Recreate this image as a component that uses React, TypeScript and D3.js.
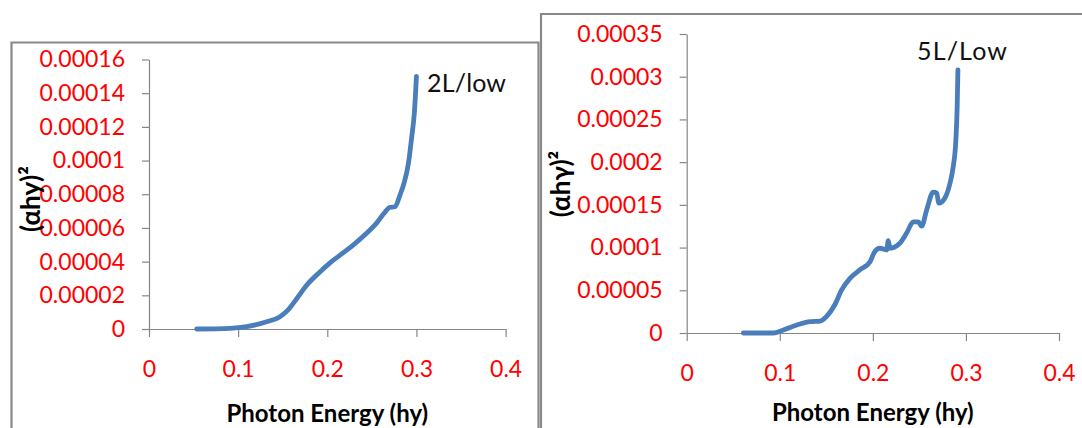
import React, { useEffect, useRef } from "react";
import * as d3 from "d3";

// photon energy ticks, shared by both panels
const xTicks = [0, 0.1, 0.2, 0.3, 0.4];
const yTicks2L = [0, 0.00002, 0.00004, 0.00006, 0.00008, 0.0001, 0.00012, 0.00014, 0.00016];
const yTicks5L = [0, 0.00005, 0.0001, 0.00015, 0.0002, 0.00025, 0.0003, 0.00035];

// 2L/low curve
const energy2L = [0.0535, 0.0909, 0.1096, 0.132, 0.147, 0.156, 0.166, 0.177, 0.192, 0.203, 0.218, 0.229, 0.244, 0.255, 0.265, 0.27, 0.276, 0.2815, 0.286, 0.291, 0.2947, 0.2976, 0.3];
const absorb2L = [0, 0.0000004, 0.0000014, 0.0000043, 0.0000073, 0.0000113, 0.0000182, 0.0000261, 0.000034, 0.0000393, 0.0000453, 0.0000498, 0.0000568, 0.0000627, 0.0000696, 0.0000722, 0.0000726, 0.0000795, 0.0000865, 0.0000983, 0.000114, 0.000128, 0.00015];

// 5L/Low curve
const energy5L = [0.0608, 0.093, 0.1038, 0.1217, 0.1324, 0.1432, 0.15, 0.159, 0.1665, 0.1754, 0.186, 0.197, 0.202, 0.2076, 0.2148, 0.2166, 0.2184, 0.229, 0.2363, 0.2434, 0.2488, 0.2524, 0.2578, 0.2649, 0.2685, 0.271, 0.2774, 0.2828, 0.2864, 0.2892, 0.2906, 0.2914];
const absorb5L = [0, 0, 0.0000035, 0.0000105, 0.0000132, 0.000014, 0.0000191, 0.0000328, 0.0000504, 0.000064, 0.0000738, 0.0000835, 0.0000952, 0.0000992, 0.0000972, 0.000108, 0.0000992, 0.000105, 0.000117, 0.00013, 0.00013, 0.000125, 0.000144, 0.000165, 0.000164, 0.000152, 0.000158, 0.000175, 0.000195, 0.000226, 0.000265, 0.000308];

const FONT = "Lato, 'Open Sans', sans-serif";

const fmt = (v: number) => {
  let s = d3.format(".5f")(v);
  s = s.replace(/0+$/, "").replace(/\.$/, "");
  return s;
};

const App = () => {
  const ref = useRef<SVGSVGElement | null>(null);

  useEffect(() => {
    draw();
  });

  let draw = () => {
    const svg = d3.select(ref.current);
    svg.selectAll("*").remove();

    const panels = [
      {
        frame: "M11.5,440 V42.5 H538.5 V440",
        xr: [149, 505.6],
        yr: [329, 59.5],
        yTicks: yTicks2L,
        xs: energy2L,
        ys: absorb2L,
        name: "2L/low",
        nameX: 427,
        nameY: 83,
        nameLen: 79,
        yTitle: "(αhy)²",
        yTitleX: 31,
        yTitleY: 199,
        xTitleY: 422,
      },
      {
        frame: "M541,440 V14 H1090",
        xr: [686.7, 1059],
        yr: [333, 34],
        yTicks: yTicks5L,
        xs: energy5L,
        ys: absorb5L,
        name: "5L/Low",
        nameX: 917,
        nameY: 51,
        nameLen: 90,
        yTitle: "(αhγ)²",
        yTitleX: 561,
        yTitleY: 184,
        xTitleY: 421,
      },
    ];

    panels.forEach((p) => {
      const g = svg.append("g");

      g.append("path")
        .attr("d", p.frame + " Z")
        .attr("fill", "#fff")
        .attr("stroke", "none");
      g.append("path")
        .attr("d", p.frame)
        .attr("fill", "none")
        .attr("stroke", "#898989")
        .attr("stroke-width", 2.2);

      const x = d3.scaleLinear().domain([0, 0.4]).range(p.xr);
      const y = d3
        .scaleLinear()
        .domain([0, p.yTicks[p.yTicks.length - 1]])
        .range(p.yr);

      // y axis
      const yAxis = g
        .append("g")
        .attr("transform", `translate(${p.xr[0]},0)`)
        .call(
          d3
            .axisLeft(y)
            .tickValues(p.yTicks)
            .tickSize(7)
            .tickSizeOuter(0)
            .tickPadding(17)
            .tickFormat((d) => fmt(d as number))
        );
      // x axis
      const xAxis = g
        .append("g")
        .attr("transform", `translate(0,${p.yr[0]})`)
        .call(
          d3
            .axisBottom(x)
            .tickValues(xTicks)
            .tickSize(8)
            .tickSizeOuter(0)
            .tickPadding(24)
            .tickFormat((d) => fmt(d as number))
        );

      [yAxis, xAxis].forEach((a) => {
        a.selectAll("path, line").attr("stroke", "#868686").attr("stroke-width", 1.2);
        a.selectAll("text")
          .attr("fill", "#ff0000")
          .style("font-family", FONT)
          .style("font-size", "23px");
      });

      const line = d3
        .line<number>()
        .x((d, i) => x(p.xs[i]))
        .y((d) => y(d))
        .curve(d3.curveMonotoneX);

      g.append("path")
        .attr("d", line(p.ys))
        .attr("fill", "none")
        .attr("stroke", "#4a7ebb")
        .attr("stroke-width", 4.8)
        .attr("stroke-linejoin", "round")
        .attr("stroke-linecap", "round");

      g.append("text")
        .attr("x", p.nameX)
        .attr("y", p.nameY)
        .attr("dy", "0.35em")
        .attr("fill", "#111")
        .attr("textLength", p.nameLen)
        .style("font-family", FONT)
        .style("font-size", "25px")
        .text(p.name);

      g.append("text")
        .attr("transform", `translate(${p.yTitleX},${p.yTitleY}) rotate(-90)`)
        .attr("text-anchor", "middle")
        .attr("dy", "0.35em")
        .attr("fill", "#000")
        .style("font-family", FONT)
        .style("font-weight", "bold")
        .style("font-size", "26px")
        .text(p.yTitle);

      g.append("text")
        .attr("x", (p.xr[0] + p.xr[1]) / 2)
        .attr("y", p.xTitleY)
        .attr("text-anchor", "middle")
        .attr("fill", "#000")
        .style("font-family", FONT)
        .style("font-weight", "bold")
        .style("font-size", "24px")
        .text("Photon Energy (hy)");
    });
  };

  return (
    <svg
      ref={ref}
      width={1082}
      height={428}
      style={{ position: "absolute", left: 0, top: 0, background: "#fff" }}
    />
  );
};

export default App;
